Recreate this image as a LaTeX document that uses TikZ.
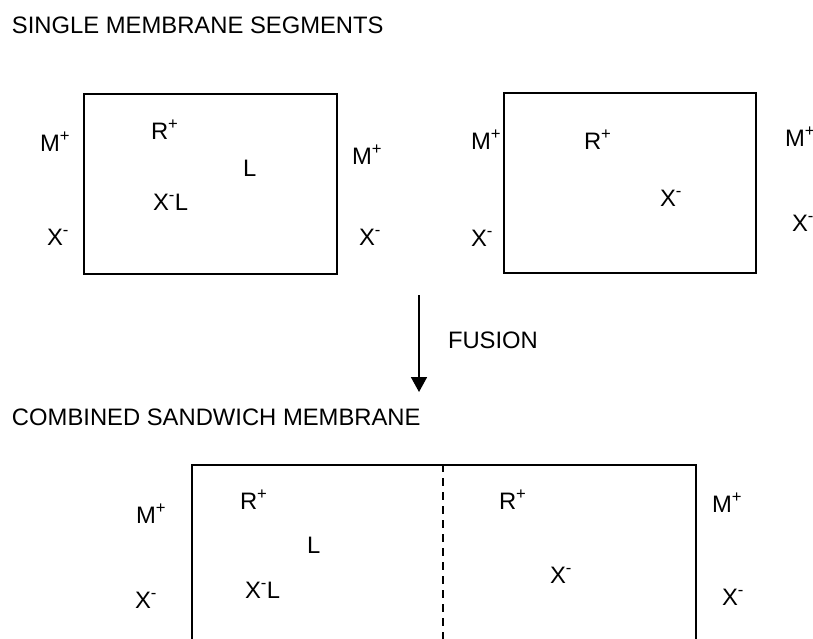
\documentclass[tikz,border=0pt]{standalone}
\usepackage{fontspec}
\setmainfont{Liberation Sans}
\usetikzlibrary{arrows.meta}
\tikzset{
  lbl/.style={anchor=base west, inner sep=0pt, outer sep=0pt},
  membrane/.style={draw=black, line width=1.6pt},
  seam/.style={draw=black, line width=1.4pt, dash pattern=on 8pt off 6pt},
  fusionarrow/.style={draw=black, line width=1.8pt, -{Triangle[width=16pt,length=15pt]}}
}
\newcommand{\up}[1]{\textsuperscript{#1}}
\begin{document}
\begin{tikzpicture}[x=1pt,y=-1pt]
\fontsize{23.8}{28}\selectfont
\useasboundingbox (0,0) rectangle (813,638);
\clip (0,0) rectangle (813,638);

% headings
\node[lbl] (t1) at (12,33) {SINGLE MEMBRANE SEGMENTS};
\node[lbl] (t2) at (12,425) {COMBINED SANDWICH MEMBRANE};

% first single segment
\node[membrane, minimum width=253pt, minimum height=180pt, inner sep=0pt, anchor=north west] (boxA) at (83,93) {};
\node[lbl] (a1) at (40,151) {M\up{+}};
\node[lbl] (a2) at (47,245) {X\up{-}};
\node[lbl] (a3) at (151,139) {R\up{+}};
\node[lbl] (a4) at (243,176) {L};
\node[lbl] (a5) at (153,210) {X\up{-}L};
\node[lbl] (a6) at (352,164) {M\up{+}};
\node[lbl] (a7) at (359,245) {X\up{-}};

% second single segment
\node[membrane, minimum width=252pt, minimum height=180pt, inner sep=0pt, anchor=north west] (boxB) at (503,92) {};
\node[lbl] (b1) at (471,149) {M\up{+}};
\node[lbl] (b2) at (471,246) {X\up{-}};
\node[lbl] (b3) at (584,149) {R\up{+}};
\node[lbl] (b4) at (660,206) {X\up{-}};
\node[lbl] (b5) at (785,146) {M\up{+}};
\node[lbl] (b6) at (792,231) {X\up{-}};

% fusion step
\coordinate (f1) at (419,295);
\coordinate (f2) at (419,392);
\draw[fusionarrow] (f1) -- (f2);
\node[lbl] (fl) at (448,348) {FUSION};

% combined sandwich membrane
\node[membrane, minimum width=504pt, minimum height=240pt, inner sep=0pt, anchor=north west] (boxC) at (191,464) {};
\coordinate (s1) at (443,464);
\coordinate (s2) at (443,700);
\draw[seam] (s1) -- (s2);
\node[lbl] (c1) at (136,523) {M\up{+}};
\node[lbl] (c2) at (135,608) {X\up{-}};
\node[lbl] (c3) at (240,509) {R\up{+}};
\node[lbl] (c4) at (307,553) {L};
\node[lbl] (c5) at (245,598) {X\up{-}L};
\node[lbl] (c6) at (499,509) {R\up{+}};
\node[lbl] (c7) at (550,583) {X\up{-}};
\node[lbl] (c8) at (712,512) {M\up{+}};
\node[lbl] (c9) at (722,605) {X\up{-}};
\end{tikzpicture}
\end{document}
